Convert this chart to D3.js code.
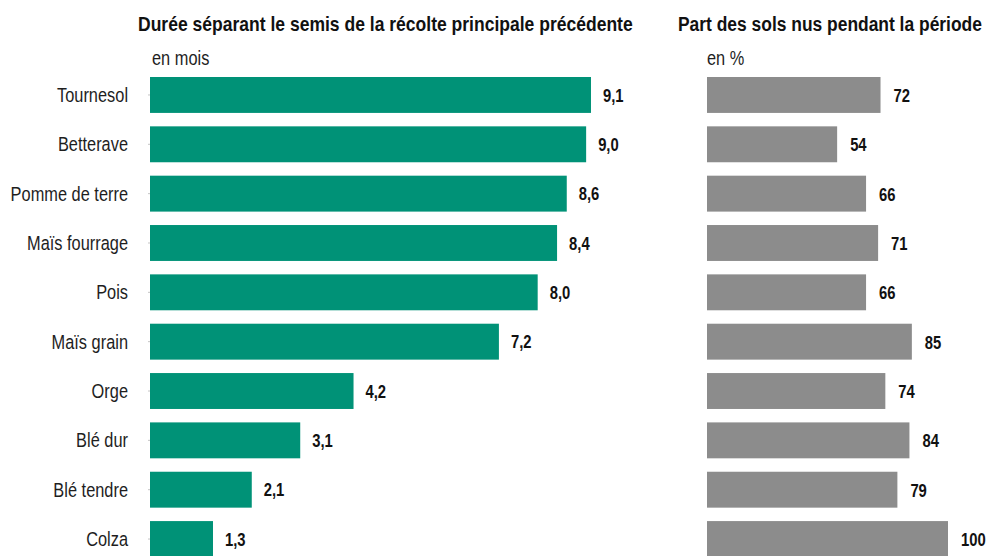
<!DOCTYPE html>
<html><head><meta charset="utf-8">
<script src="https://cdn.jsdelivr.net/npm/d3@7"></script>
<style>
body{margin:0;background:#fff;}
svg{display:block;}
.cat{font-family:"Liberation Sans",Arial,sans-serif;font-size:19.5px;fill:#1e1e1e;}
.title{font-family:"Liberation Sans",Arial,sans-serif;font-weight:bold;font-size:19.5px;fill:#111;}
.unit{font-family:"Liberation Sans",Arial,sans-serif;font-size:19.5px;fill:#1e1e1e;}
.val{font-family:"Liberation Sans",Arial,sans-serif;font-weight:bold;font-size:18.5px;fill:#111;}
</style></head>
<body><div id="chart"></div>
<script>
const categories = ["Tournesol","Betterave","Pomme de terre","Maïs fourrage","Pois","Maïs grain","Orge","Blé dur","Blé tendre","Colza"];
const dureeMois = [9.1,9.0,8.6,8.4,8.0,7.2,4.2,3.1,2.1,1.3];
const partSolsNus = [72,54,66,71,66,85,74,84,79,100];
const titleLeft = "Durée séparant le semis de la récolte principale précédente";
const titleRight = "Part des sols nus pendant la période";
const unitLeft = "en mois";
const unitRight = "en %";

const W = 992, H = 556;
const svg = d3.select("#chart").append("svg").attr("width", W).attr("height", H);

// horizontal condensing helper (no condensed font installed)
function condense(sel, sx) {
  sel.each(function() {
    const t = d3.select(this);
    const x = +t.attr("x") || 0;
    t.attr("x", x / sx).attr("transform", `scale(${sx},1)`);
  });
}
function fitWidth(sel, w) {
  const nat = sel.node().getComputedTextLength();
  condense(sel, w / nat);
}

const y = d3.scaleBand().domain(categories).range([77, 557]).paddingInner(0.272).paddingOuter(0);
const xL = d3.scaleLinear().domain([0, 10]).range([150, 634.6]);
const xR = d3.scaleLinear().domain([0, 100]).range([707, 948]);

const fr = d3.formatLocale({decimal: ",", thousands: " ", grouping: [3], currency: ["", " €"]});
const f1 = fr.format(".1f");
const f0 = fr.format("d");

// left axis (category labels)
const axL = svg.append("g").attr("transform", `translate(${xL(0)},0)`)
  .call(d3.axisLeft(y).tickSize(2).tickPadding(20));
axL.select(".domain").remove();
axL.selectAll(".tick line").attr("stroke", "#c4c4c4");
axL.selectAll(".tick text").attr("class", "cat").attr("font-size", null).attr("font-family", null).attr("fill", null).attr("dy", "0.36em");
condense(axL.selectAll(".tick text"), 0.84);

// left bars
svg.append("g").selectAll("rect").data(categories).join("rect")
  .attr("x", xL(0)).attr("y", d => y(d))
  .attr("width", (d,i) => xL(dureeMois[i]) - xL(0))
  .attr("height", y.bandwidth()).attr("fill", "#009277");
const vL = svg.append("g").selectAll("text").data(categories).join("text")
  .attr("class", "val")
  .attr("x", (d,i) => xL(dureeMois[i]) + 12)
  .attr("y", d => y(d) + y.bandwidth()/2).attr("dy", "0.36em")
  .text((d,i) => f1(dureeMois[i]));
condense(vL, 0.8);

// right bars
svg.append("g").selectAll("rect").data(categories).join("rect")
  .attr("x", xR(0)).attr("y", d => y(d))
  .attr("width", (d,i) => xR(partSolsNus[i]) - xR(0))
  .attr("height", y.bandwidth()).attr("fill", "#8c8c8c");
const vR = svg.append("g").selectAll("text").data(categories).join("text")
  .attr("class", "val")
  .attr("x", (d,i) => xR(partSolsNus[i]) + 13)
  .attr("y", d => y(d) + y.bandwidth()/2).attr("dy", "0.38em")
  .text((d,i) => f0(partSolsNus[i]));
condense(vR, 0.8);

// titles
const t1 = svg.append("text").attr("class", "title").attr("x", 138).attr("y", 31).text(titleLeft);
const t2 = svg.append("text").attr("class", "title").attr("x", 678).attr("y", 31).text(titleRight);
fitWidth(t1, 495);
fitWidth(t2, 304);
const u1 = svg.append("text").attr("class", "unit").attr("x", 152).attr("y", 65).text(unitLeft);
const u2 = svg.append("text").attr("class", "unit").attr("x", 707).attr("y", 65).text(unitRight);
condense(u1, 0.84);
condense(u2, 0.84);
</script></body></html>
